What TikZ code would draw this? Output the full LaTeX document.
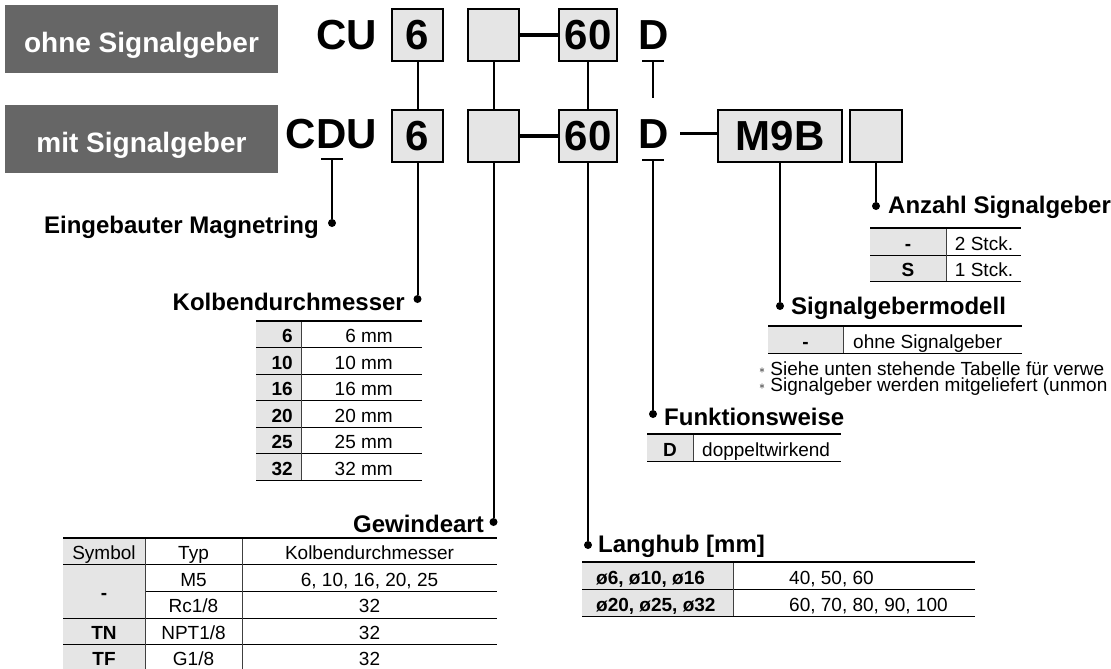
\documentclass[tikz,border=0pt]{standalone}
\usepackage{fontspec}
\setsansfont{Liberation Sans}
\usetikzlibrary{positioning,calc}

\begin{document}
\begin{tikzpicture}[x=1pt,y=-1pt,font=\sffamily,
  lbl/.style={fill=black!60,inner sep=0pt,minimum width=273pt,minimum height=68pt},
  lbltext/.style={inner sep=0pt,text=white,font=\sffamily\bfseries\fontsize{28}{30}\selectfont},
  code/.style={inner sep=0pt,font=\sffamily\bfseries\fontsize{42}{44}\selectfont},
  codebox/.style={draw,line width=2pt,fill=black!10,minimum width=51pt,minimum height=52pt,inner sep=0pt,font=\sffamily\bfseries\fontsize{42}{44}\selectfont},
  conn/.style={line width=2pt},
  dashline/.style={line width=3.5pt},
  dot/.style={circle,fill,inner sep=0pt,minimum size=8pt},
  head/.style={inner sep=0pt,font=\sffamily\bfseries\fontsize{24}{26}\selectfont},
  cell/.style={inner sep=0pt,font=\sffamily\fontsize{19}{20}\selectfont},
  bcell/.style={inner sep=0pt,font=\sffamily\bfseries\fontsize{19}{20}\selectfont},
  note/.style={inner sep=0pt,align=left,font=\sffamily\fontsize{19}{15.5}\selectfont},
  rule/.style={line width=.9pt},
  toprule/.style={line width=2pt},
  colsep/.style={black!75,line width=.9pt}]
\useasboundingbox (0,0) rectangle (1111,669);

\node[lbl] (ohne) at (141.5,39) {};
\node[lbltext,anchor=base] (ohnet) at (141.5,53) {ohne Signalgeber};
\node[lbl] (mit) at (141.5,138.5) {};
\node[lbltext,anchor=base] (mitt) at (141.5,152.5) {mit Signalgeber};

\node[code,anchor=base east] (cu) at (377,50) {CU};
\node[code,anchor=base east] (cdu) at (377,148) {CDU};
\node[codebox] (b6t) at (417.5,35) {6};
\node[codebox] (bxt) at (493.5,35) {};
\node[codebox,minimum width=58pt] (b60t) at (588,35) {60};
\node[code,anchor=base] (dt) at (653.5,50) {D};
\node[codebox] (b6b) at (417.5,136) {6};
\node[codebox] (bxb) at (493.5,136) {};
\node[codebox,minimum width=58pt] (b60b) at (588,136) {60};
\node[code,anchor=base] (db) at (653.5,148) {D};
\node[codebox,minimum width=124pt] (m9b) at (780,136) {M9B};
\node[codebox,minimum width=52pt] (bsw) at (876,136) {};

\draw[conn] (321,159) -- (343,159);
\draw[conn] (642,61) -- (664,61);
\draw[conn] (642,160) -- (664,160);
\coordinate (umag) at (332,159);
\coordinate (udt) at (653,61);
\coordinate (edt) at (653,98);
\coordinate (udb) at (653,160);
\coordinate (dm) at (680,133.5);

\node[dot] (dmag) at (332,223) {};
\node[dot] (dkol) at (417.5,299) {};
\node[dot] (dgew) at (493.5,522) {};
\node[dot] (dlang) at (588,545) {};
\node[dot] (dfunk) at (653,414) {};
\node[dot] (dsig) at (780,306) {};
\node[dot] (danz) at (876,206) {};

\draw[dashline] (bxt) -- (b60t);
\draw[dashline] (bxb) -- (b60b);
\draw[dashline] (dm) -- (m9b.west |- dm);
\draw[conn] (b6t) -- (b6b);
\draw[conn] (bxt) -- (bxb);
\draw[conn] (b60t) -- (b60b);
\draw[conn] (udt) -- (edt);
\draw[conn] (umag) -- (dmag);
\draw[conn] (b6b) -- (dkol);
\draw[conn] (bxb) -- (dgew);
\draw[conn] (b60b) -- (dlang);
\draw[conn] (udb) -- (dfunk);
\draw[conn] (m9b) -- (dsig);
\draw[conn] (bsw) -- (danz);

\node[head,anchor=base east] (hmag) at (319,233) {Eingebauter Magnetring};
\node[head,anchor=base east] (hkol) at (405,310) {Kolbendurchmesser};
\node[head,anchor=base east] (hgew) at (484,532) {Gewindeart};
\node[head,anchor=base west] (hlang) at (598,552) {Langhub [mm]};
\node[head,anchor=base west] (hfunk) at (664,425) {Funktionsweise};
\node[head,anchor=base west] (hsig) at (791,314) {Signalgebermodell};
\node[head,anchor=base west] (hanz) at (888,213) {Anzahl Signalgeber};

\fill[black!10] (256,321) rectangle (301,480);
\foreach \y in {347.5,374,400.5,427,453.5,480} \draw[rule] (256,\y) -- (422,\y);
\draw[colsep] (301,321) -- (301,480);
\draw[toprule] (256,321) -- (422,321);
\foreach \j/\d in {0/6,1/10,2/16,3/20,4/25,5/32} {
  \node[bcell,anchor=base east] (kd\d) at (293,{321+(\j+.5)*26.5+8.5}) {\d};
  \node[cell,anchor=base east] (km\d) at (393,{321+(\j+.5)*26.5+8.5}) {\d\ mm};
}

\fill[black!10] (63,538) rectangle (145,669);
\draw[rule] (63,564) -- (497,564);
\draw[rule] (145,591) -- (497,591);
\draw[rule] (63,618) -- (497,618);
\draw[rule] (63,644) -- (497,644);
\draw[colsep] (145,538) -- (145,669);
\draw[colsep] (242,538) -- (242,669);
\draw[toprule] (63,538) -- (497,538);
\node[cell,anchor=base] (gh1) at (104,559.5) {Symbol};
\node[cell,anchor=base] (gh2) at (193.5,559.5) {Typ};
\node[cell,anchor=base] (gh3) at (369.5,559.5) {Kolbendurchmesser};
\node[bcell,anchor=base] (gs1) at (104,599.5) {-};
\node[bcell,anchor=base] (gs2) at (104,639) {TN};
\node[bcell,anchor=base] (gs3) at (104,665) {TF};
\foreach \y/\t/\k/\n in {586/M5/{6, 10, 16, 20, 25}/1,612.5/Rc1\slash 8/32/2,639/NPT1\slash 8/32/3,665/G1\slash 8/32/4} {
  \node[cell,anchor=base] (gt\n) at (193.5,\y) {\t};
  \node[cell,anchor=base] (gk\n) at (369.5,\y) {\k};
}

\fill[black!10] (582,562) rectangle (733,616);
\draw[rule] (582,589) -- (975,589);
\draw[rule] (582,616) -- (975,616);
\draw[colsep] (733,562) -- (733,616);
\draw[toprule] (582,562) -- (975,562);
\node[bcell,anchor=base west] (lh1) at (596,584) {ø6, ø10, ø16};
\node[cell,anchor=base west] (lv1) at (789,584) {40, 50, 60};
\node[bcell,anchor=base west] (lh2) at (596,611) {ø20, ø25, ø32};
\node[cell,anchor=base west] (lv2) at (789,611) {60, 70, 80, 90, 100};

\fill[black!10] (647,434) rectangle (693,461);
\draw[rule] (647,461) -- (841,461);
\draw[colsep] (693,434) -- (693,461);
\draw[toprule] (647,434) -- (841,434);
\node[bcell,anchor=base] (fd) at (670,456) {D};
\node[cell,anchor=base west] (fdt) at (702,456) {doppeltwirkend};

\fill[black!10] (768,326) rectangle (843,353);
\draw[rule] (768,353) -- (1022,353);
\draw[colsep] (843,326) -- (843,353);
\draw[toprule] (768,326) -- (1022,326);
\node[bcell,anchor=base] (sm) at (805.5,348) {-};
\node[cell,anchor=base west] (smt) at (853,348) {ohne Signalgeber};
\node[note,anchor=north west] (notes) at (759,362) {\raisebox{2pt}{\fontsize{13}{13}\selectfont$\ast$} Siehe unten stehende Tabelle für verwe\\
  \raisebox{2pt}{\fontsize{13}{13}\selectfont$\ast$} Signalgeber werden mitgeliefert (unmon};

\fill[black!10] (870,228) rectangle (946,281);
\draw[rule] (870,255) -- (1021,255);
\draw[rule] (870,281) -- (1021,281);
\draw[colsep] (946,228) -- (946,281);
\draw[toprule] (870,228) -- (1021,228);
\node[bcell,anchor=base] (a1) at (908,250) {-};
\node[cell,anchor=base] (a1t) at (984,250) {2 Stck.};
\node[bcell,anchor=base] (a2) at (908,276.5) {S};
\node[cell,anchor=base] (a2t) at (984,276.5) {1 Stck.};
\end{tikzpicture}
\end{document}
